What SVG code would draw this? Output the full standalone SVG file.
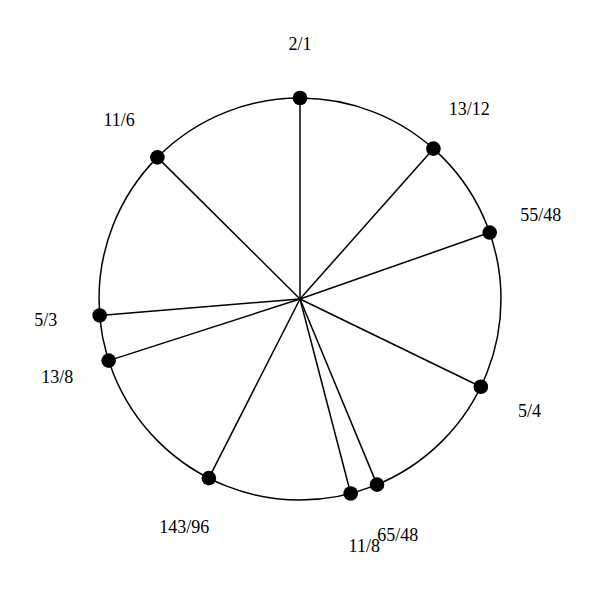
<svg xmlns="http://www.w3.org/2000/svg" width="600" height="600" viewBox="0 0 600 600">
<style>
.ring{fill:none;stroke:#000;stroke-width:1.5}
.spoke{stroke:#000;stroke-width:1.5}
.dot{fill:#000}
.lbl{font-family:"Liberation Serif","Times New Roman",serif;font-size:18px;fill:#000;text-anchor:middle}
</style>
<rect width="600" height="600" fill="#fff"/>
<circle class="ring" cx="300" cy="299" r="201"/>
<g id="connectors">
<line class="spoke" x1="300" y1="299" x2="300" y2="98"/>
<line class="spoke" x1="300" y1="299" x2="433.42" y2="148.66"/>
<line class="spoke" x1="300" y1="299" x2="489.7" y2="232.57"/>
<line class="spoke" x1="300" y1="299" x2="480.83" y2="386.77"/>
<line class="spoke" x1="300" y1="299" x2="377.02" y2="484.66"/>
<line class="spoke" x1="300" y1="299" x2="350.68" y2="493.51"/>
<line class="spoke" x1="300" y1="299" x2="208.86" y2="478.15"/>
<line class="spoke" x1="300" y1="299" x2="108.67" y2="360.59"/>
<line class="spoke" x1="300" y1="299" x2="99.67" y2="315.44"/>
<line class="spoke" x1="300" y1="299" x2="157.4" y2="157.35"/>
</g>
<g id="n-2-1"><circle class="dot" cx="300" cy="98" r="7.3"/><text class="lbl" x="300" y="50.3">2/1</text></g>
<g id="n-13-12"><circle class="dot" cx="433.42" cy="148.66" r="7.3"/><text class="lbl" x="469.26" y="114.57">13/12</text></g>
<g id="n-55-48"><circle class="dot" cx="489.7" cy="232.57" r="7.3"/><text class="lbl" x="540.67" y="221.02">55/48</text></g>
<g id="n-5-4"><circle class="dot" cx="480.83" cy="386.77" r="7.3"/><text class="lbl" x="529.41" y="416.66">5/4</text></g>
<g id="n-65-48"><circle class="dot" cx="377.02" cy="484.66" r="7.3"/><text class="lbl" x="397.72" y="540.84">65/48</text></g>
<g id="n-11-8"><circle class="dot" cx="350.68" cy="493.51" r="7.3"/><text class="lbl" x="364.29" y="552.06">11/8</text></g>
<g id="n-143-96"><circle class="dot" cx="208.86" cy="478.15" r="7.3"/><text class="lbl" x="184.37" y="532.58">143/96</text></g>
<g id="n-13-8"><circle class="dot" cx="108.67" cy="360.59" r="7.3"/><text class="lbl" x="57.27" y="383.44">13/8</text></g>
<g id="n-5-3"><circle class="dot" cx="99.67" cy="315.44" r="7.3"/><text class="lbl" x="45.85" y="326.16">5/3</text></g>
<g id="n-11-6"><circle class="dot" cx="157.4" cy="157.35" r="7.3"/><text class="lbl" x="119.09" y="125.59">11/6</text></g>
</svg>
